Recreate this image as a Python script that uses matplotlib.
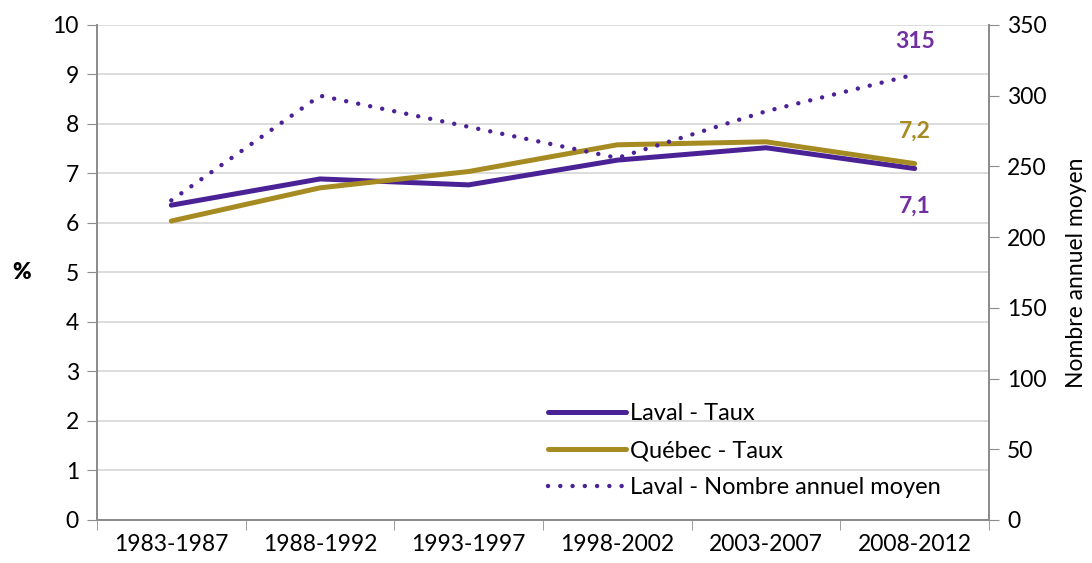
import numpy as np
import matplotlib.pyplot as plt

plt.rcParams['font.family'] = ['Lato', 'DejaVu Sans']

# Périodes et séries
periodes = ["1983-1987", "1988-1992", "1993-1997", "1998-2002", "2003-2007", "2008-2012"]
laval_taux = [6.36, 6.89, 6.77, 7.27, 7.52, 7.1]
quebec_taux = [6.04, 6.71, 7.04, 7.58, 7.64, 7.2]
laval_nombre = [226, 300, 278, 256, 289, 315]

violet = "#4B2296"
violet_txt = "#7030A0"
or_ = "#A68B22"
gris = "#8C8C8C"

x = np.arange(len(periodes))

fig = plt.figure(figsize=(10.92, 5.63), dpi=100)
ax = fig.add_axes([0.0888, 0.0764, 0.8169, 0.8792])
ax2 = ax.twinx()

l1, = ax.plot(x, laval_taux, color=violet, lw=3.6, solid_capstyle="round",
              label="Laval - Taux")
l2, = ax.plot(x, quebec_taux, color=or_, lw=3.6, solid_capstyle="round",
              label="Québec - Taux")
l3, = ax2.plot(x, laval_nombre, color=violet, lw=3.2, linestyle=(0, (0.01, 2.75)),
               dash_capstyle="round", label="Laval - Nombre annuel moyen")

# Axe gauche
ax.set_ylim(0, 10)
ax.set_yticks(range(0, 11))
ax.set_xlim(-0.5, len(periodes) - 0.5)
ax.set_xticks(x)
ax.set_xticklabels(periodes)
ax.set_xticks(np.arange(-0.5, len(periodes)), minor=True)
ax.tick_params(axis="x", which="major", length=0, pad=10, labelsize=16.5)
ax.tick_params(axis="x", which="minor", length=7, color=gris, direction="out")
ax.tick_params(axis="y", length=7, color=gris, labelsize=16.5, pad=6)
ax.grid(axis="y", color="#D9D9D9", lw=1.3)
ax.set_axisbelow(True)
ax.set_ylabel("%", rotation=0, fontsize=16, fontweight="heavy", labelpad=22, va="center")

# Axe droit
ax2.set_ylim(0, 350)
ax2.set_yticks(range(0, 351, 50))
ax2.tick_params(axis="y", length=7, color=gris, labelsize=16.5, pad=6)
ax2.set_ylabel("Nombre annuel moyen", fontsize=16.5, labelpad=14)

for a in (ax, ax2):
    a.spines["top"].set_visible(False)
    for s in ("left", "right", "bottom"):
        a.spines[s].set_color(gris)
        a.spines[s].set_linewidth(1.3)

# Étiquettes de valeurs
ax2.annotate(f"{laval_nombre[-1]}", (x[-1], laval_nombre[-1]), xytext=(0, 24),
             textcoords="offset points", ha="center", va="center",
             color=violet_txt, fontsize=16.5, fontweight="bold")
ax.annotate(f"{quebec_taux[-1]:.1f}".replace(".", ","), (x[-1], quebec_taux[-1]),
            xytext=(0, 23), textcoords="offset points", ha="center", va="center",
            color=or_, fontsize=16.5, fontweight="bold")
ax.annotate(f"{laval_taux[-1]:.1f}".replace(".", ","), (x[-1], laval_taux[-1]),
            xytext=(0, -27), textcoords="offset points", ha="center", va="center",
            color=violet_txt, fontsize=16.5, fontweight="bold")

ax.legend(handles=[l1, l2, l3], loc="lower left", bbox_to_anchor=(0.49, 0.015),
          frameon=False, fontsize=17, handlelength=3.3, handletextpad=0.15,
          labelspacing=0.68, borderaxespad=0.2)

fig.savefig("out.png", dpi=100)
